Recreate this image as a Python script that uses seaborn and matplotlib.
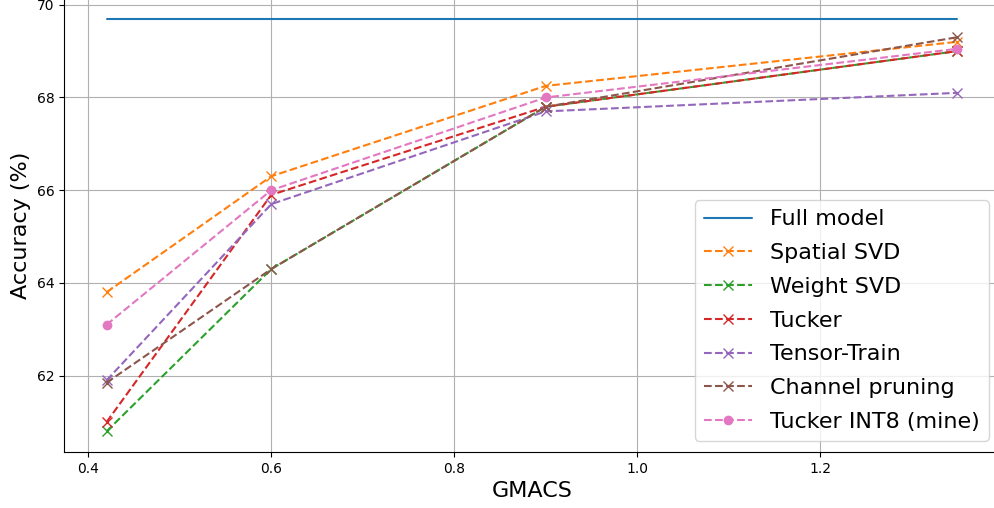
import matplotlib
matplotlib.use("Agg")
import matplotlib.pyplot as plt
import seaborn as sns
import pandas as pd

gmacs = [0.42, 0.6, 0.9, 1.35]
full_model = [69.7, 69.7, 69.7, 69.7]
spatial_svd = [63.8, 66.3, 68.25, 69.2]
weight_svd = [60.8, 64.3, 67.8, 69.0]
tucker = [61.0, 65.9, 67.8, 69.0]
tensor_train = [61.9, 65.7, 67.7, 68.1]
channel_pruning = [61.85, 64.3, 67.8, 69.3]
tucker_int8 = [63.1, 66.0, 68.0, 69.05]

series = [
    ("Full model", full_model, "#1f77b4", "-", None),
    ("Spatial SVD", spatial_svd, "#ff7f0e", "--", "x"),
    ("Weight SVD", weight_svd, "#2ca02c", "--", "x"),
    ("Tucker", tucker, "#d62728", "--", "x"),
    ("Tensor-Train", tensor_train, "#9467bd", "--", "x"),
    ("Channel pruning", channel_pruning, "#8c564b", "--", "x"),
    ("Tucker INT8 (mine)", tucker_int8, "#e377c2", "--", "o"),
]

sns.set_style("ticks")
plt.rcParams["font.family"] = ["DejaVu Sans"]
plt.rcParams["text.color"] = "black"
plt.rcParams["axes.labelcolor"] = "black"

fig = plt.figure(figsize=(9.95, 5.08), dpi=100)
ax = fig.add_axes([64 / 995, 56 / 508, 936 / 995, 454 / 508])

for name, vals, color, ls, mk in series:
    df = pd.DataFrame({"GMACS": gmacs, "acc": vals})
    kw = dict(color=color, linestyle=ls, linewidth=1.5, label=name)
    if mk is not None:
        kw.update(marker=mk, markersize=7, markeredgecolor=color,
                  markerfacecolor=color, markeredgewidth=1.0 if mk == "x" else 0)
    sns.lineplot(data=df, x="GMACS", y="acc", ax=ax, **kw)

ax.grid(True, color="#b0b0b0", linewidth=0.8)
ax.set_axisbelow(True)
ax.set_xticks([0.4, 0.6, 0.8, 1.0, 1.2])
ax.set_xticklabels(["0.4", "0.6", "0.8", "1.0", "1.2"])
ax.set_yticks([62, 64, 66, 68, 70])
ax.tick_params(labelsize=10, colors="black")
ax.set_xlabel("GMACS", fontsize=16)
ax.set_ylabel("Accuracy (%)", fontsize=16)
for s in ["top", "right"]:
    ax.spines[s].set_visible(False)
for s in ["left", "bottom"]:
    ax.spines[s].set_color("black")
leg = ax.legend(loc="lower right", fontsize=16, frameon=True, labelspacing=0.62,
                handlelength=2.2)
for t in leg.get_texts():
    t.set_color("black")

fig.savefig("out.png", dpi=100)
